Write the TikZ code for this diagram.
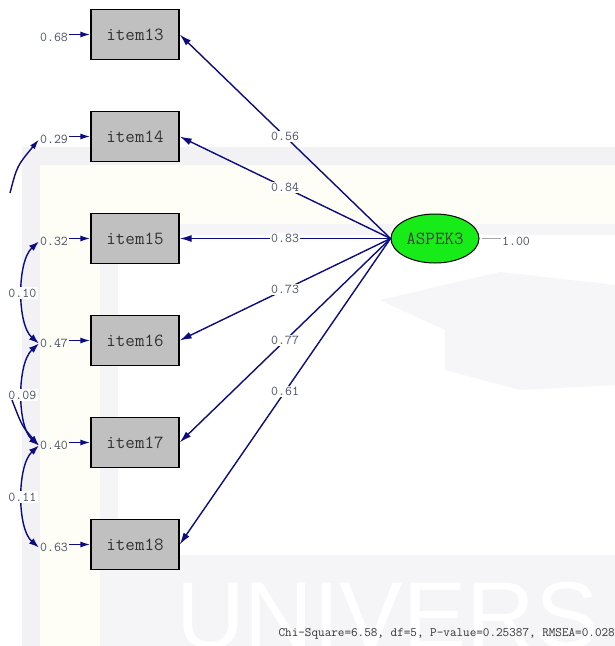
\documentclass[tikz,border=0pt]{standalone}
\usepackage{fontspec}
\newfontfamily\lsans{Liberation Sans}
\usetikzlibrary{arrows.meta,shapes.geometric}
\definecolor{navyline}{RGB}{12,12,128}
\definecolor{boxgray}{RGB}{192,192,192}
\definecolor{latgreen}{RGB}{24,236,24}
\definecolor{numcol}{RGB}{72,80,98}
\definecolor{itemcol}{RGB}{50,50,50}
\definecolor{wmgray}{RGB}{242,242,245}
\definecolor{wmgray2}{RGB}{245,245,248}
\definecolor{wmlogo}{RGB}{246,246,249}
\definecolor{wmyellow}{RGB}{255,254,246}
\begin{document}
\begin{tikzpicture}[x=1pt,y=-1pt,
  obs/.style={draw=black,line width=1.3pt,fill=boxgray,minimum width=88pt,minimum height=50pt,inner sep=0pt,font=\ttfamily\fontsize{18.5}{18.5}\selectfont,text=itemcol},
  lat/.style={ellipse,draw=black,line width=1pt,fill=latgreen,minimum width=88pt,minimum height=49pt,inner sep=0pt,font=\ttfamily\fontsize{18.5}{18.5}\selectfont,text=black!75},
  num/.style={font=\ttfamily\fontsize{13.5}{13.5}\selectfont,text=numcol,inner sep=1pt},
  lbl/.style={num,fill=white,inner sep=1.5pt},
  load/.style={draw=navyline,line width=1.4pt,-{Latex[length=12pt,width=7pt]}},
  err/.style={draw=navyline,line width=1.4pt,-{Latex[length=10pt,width=6pt]}},
  cov/.style={draw=navyline,line width=1.4pt,{Latex[length=10pt,width=7pt]}-{Latex[length=10pt,width=7pt]}},
]
\useasboundingbox (0,0) rectangle (615,646);
\fill[white] (0,0) rectangle (615,646);
% faint watermark
\fill[wmgray] (22,147) rectangle (615,646);
\fill[wmyellow] (40,165) rectangle (615,646);
\fill[wmgray2] (100,224) rectangle (615,646);
\fill[white] (118,235) rectangle (615,555);
\fill[wmlogo] (380,300) -- (500,272) -- (615,285) -- (615,385) -- (520,390) -- (445,370) -- (445,330) -- cycle;
\node[anchor=base west,inner sep=0pt,font=\lsans\fontsize{95}{95}\selectfont,text=white] (wm) at (176,648) {UNIVERS};
\begin{scope}
\clip (3,0) rectangle (615,646);
% observed variables
\node[obs] (i13) at (135,34.5) {item13};
\node[obs] (i14) at (135,136.5) {item14};
\node[obs] (i15) at (135,238.5) {item15};
\node[obs] (i16) at (135,340.5) {item16};
\node[obs] (i17) at (135,442.5) {item17};
\node[obs] (i18) at (135,544.5) {item18};
% latent
\node[lat] (lat) at (435,238.5) {ASPEK3};
\node[num] (one) at (516,241) {1.00};
\draw[gray!70,line width=1.4pt] (lat.east) ++(2,0) -- (lat.east -| one.west);
% error variances
\node[num] (e13) at (54,37.5) {0.68};
\node[num] (e14) at (54,139.5) {0.29};
\node[num] (e15) at (54,241.5) {0.32};
\node[num] (e16) at (54,343.5) {0.47};
\node[num] (e17) at (54,445.5) {0.40};
\node[num] (e18) at (54,547.5) {0.63};
\foreach \k in {13,14,15,16,17,18}{
  \draw[err] (e\k.east |- i\k.west) -- (i\k.west);
}
% loadings
\draw[load] (lat.west) -- node[lbl]{0.56} (i13.east);
\draw[load] (lat.west) -- node[lbl]{0.84} (i14.east);
\draw[load] (lat.west) -- node[lbl]{0.83} (i15.east);
\draw[load] (lat.west) -- node[lbl]{0.73} (i16.east);
\draw[load] (lat.west) -- node[lbl]{0.77} (i17.east);
\draw[load] (lat.west) -- node[lbl]{0.61} (i18.east);
% covariances
\draw[cov] (e15.west) .. controls +(-22,20) and +(-22,-19) .. node[lbl,pos=0.5]{0.10} (e16.west);
\draw[cov] (e16.west) .. controls +(-22,20) and +(-22,-19) .. node[lbl,pos=0.5]{0.09} (e17.west);
\draw[cov] (e17.west) .. controls +(-22,20) and +(-22,-19) .. node[lbl,pos=0.5]{0.11} (e18.west);
\coordinate (c1) at (10,193);
\coordinate (c2) at (12,400);
\draw[err] (c1) .. controls (17,166) .. (e14.west);
\draw[err] (c2) .. controls (22,426) .. (e17.west);
\end{scope}
\node[anchor=east,inner sep=0pt,font=\ttfamily\fontsize{12.8}{12.8}\selectfont,text=black!80] (fit) at (615,634) {Chi-Square=6.58, df=5, P-value=0.25387, RMSEA=0.028};
\end{tikzpicture}
\end{document}
